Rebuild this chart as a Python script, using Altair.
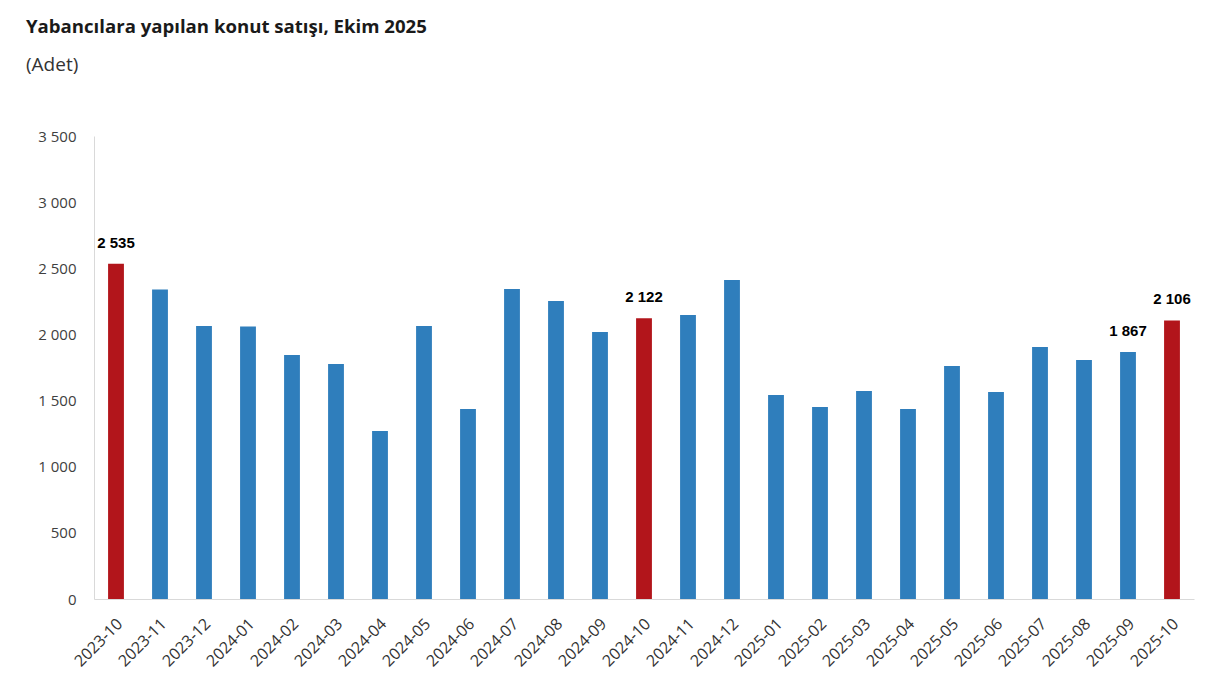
import altair as alt
import pandas as pd

months = ["2023-10", "2023-11", "2023-12", "2024-01", "2024-02", "2024-03", "2024-04",
          "2024-05", "2024-06", "2024-07", "2024-08", "2024-09", "2024-10", "2024-11",
          "2024-12", "2025-01", "2025-02", "2025-03", "2025-04", "2025-05", "2025-06",
          "2025-07", "2025-08", "2025-09", "2025-10"]
sales = [2535, 2340, 2063, 2060, 1844, 1776, 1270, 2063, 1436, 2343, 2252, 2018, 2122,
         2147, 2411, 1542, 1451, 1572, 1436, 1761, 1565, 1905, 1806, 1867, 2106]
highlight = ["2023-10", "2024-10", "2025-10"]
labelled = ["2023-10", "2024-10", "2025-09", "2025-10"]

df = pd.DataFrame({"month": months, "value": sales})
df["kind"] = ["Ekim" if m in highlight else "Diğer" for m in months]
df["label"] = [f"{v:,}".replace(",", " ") if m in labelled else "" for m, v in zip(months, sales)]

x = alt.X("month:N", sort=months, title=None,
          scale=alt.Scale(paddingInner=0.64, paddingOuter=0.32),
          axis=alt.Axis(labelAngle=-45, labelAlign="right", labelBaseline="middle",
                        labelFont="Open Sans", labelFontSize=16, labelColor="#333333",
                        ticks=False, domainColor="#d9d9d9", labelPadding=22,
                        labelOffset=4))
y = alt.Y("value:Q", title=None,
          scale=alt.Scale(domain=[0, 3500], nice=False),
          axis=alt.Axis(values=[0, 500, 1000, 1500, 2000, 2500, 3000, 3500], grid=False,
                        ticks=False, domainColor="#d9d9d9", labelFont="Open Sans",
                        labelFontSize=15, labelColor="#404040", labelPadding=18,
                        labelExpr="replace(format(datum.value, ','), ',', ' ')"))

bars = alt.Chart(df).mark_bar().encode(
    x=x, y=y,
    color=alt.Color("kind:N", scale=alt.Scale(domain=["Ekim", "Diğer"],
                                               range=["#b2151b", "#2f7ebc"]), legend=None),
)
text = alt.Chart(df).mark_text(baseline="bottom", dy=-13, font="Liberation Sans",
                               fontWeight="bold", fontSize=15, color="#000000").encode(
    x=alt.X("month:N", sort=months), y="value:Q", text="label:N")

chart = alt.layer(bars, text).properties(
    width=1100, height=463,
    title=alt.TitleParams(text="Yabancılara yapılan konut satışı, Ekim 2025",
                          subtitle="(Adet)", anchor="start", frame="group", dx=-68,
                          font="Open Sans", fontSize=18.6, fontWeight="bold", color="#1a1a1a",
                          subtitleFont="Open Sans", subtitleFontSize=19,
                          subtitleColor="#333333", subtitlePadding=19, offset=54),
    autosize=alt.AutoSizeParams(type="none"),
    padding={"left": 86, "top": 128, "right": 10, "bottom": 80},
).configure_view(stroke=None)

chart.save("out.html", embed_options={"renderer": "svg", "actions": False})
